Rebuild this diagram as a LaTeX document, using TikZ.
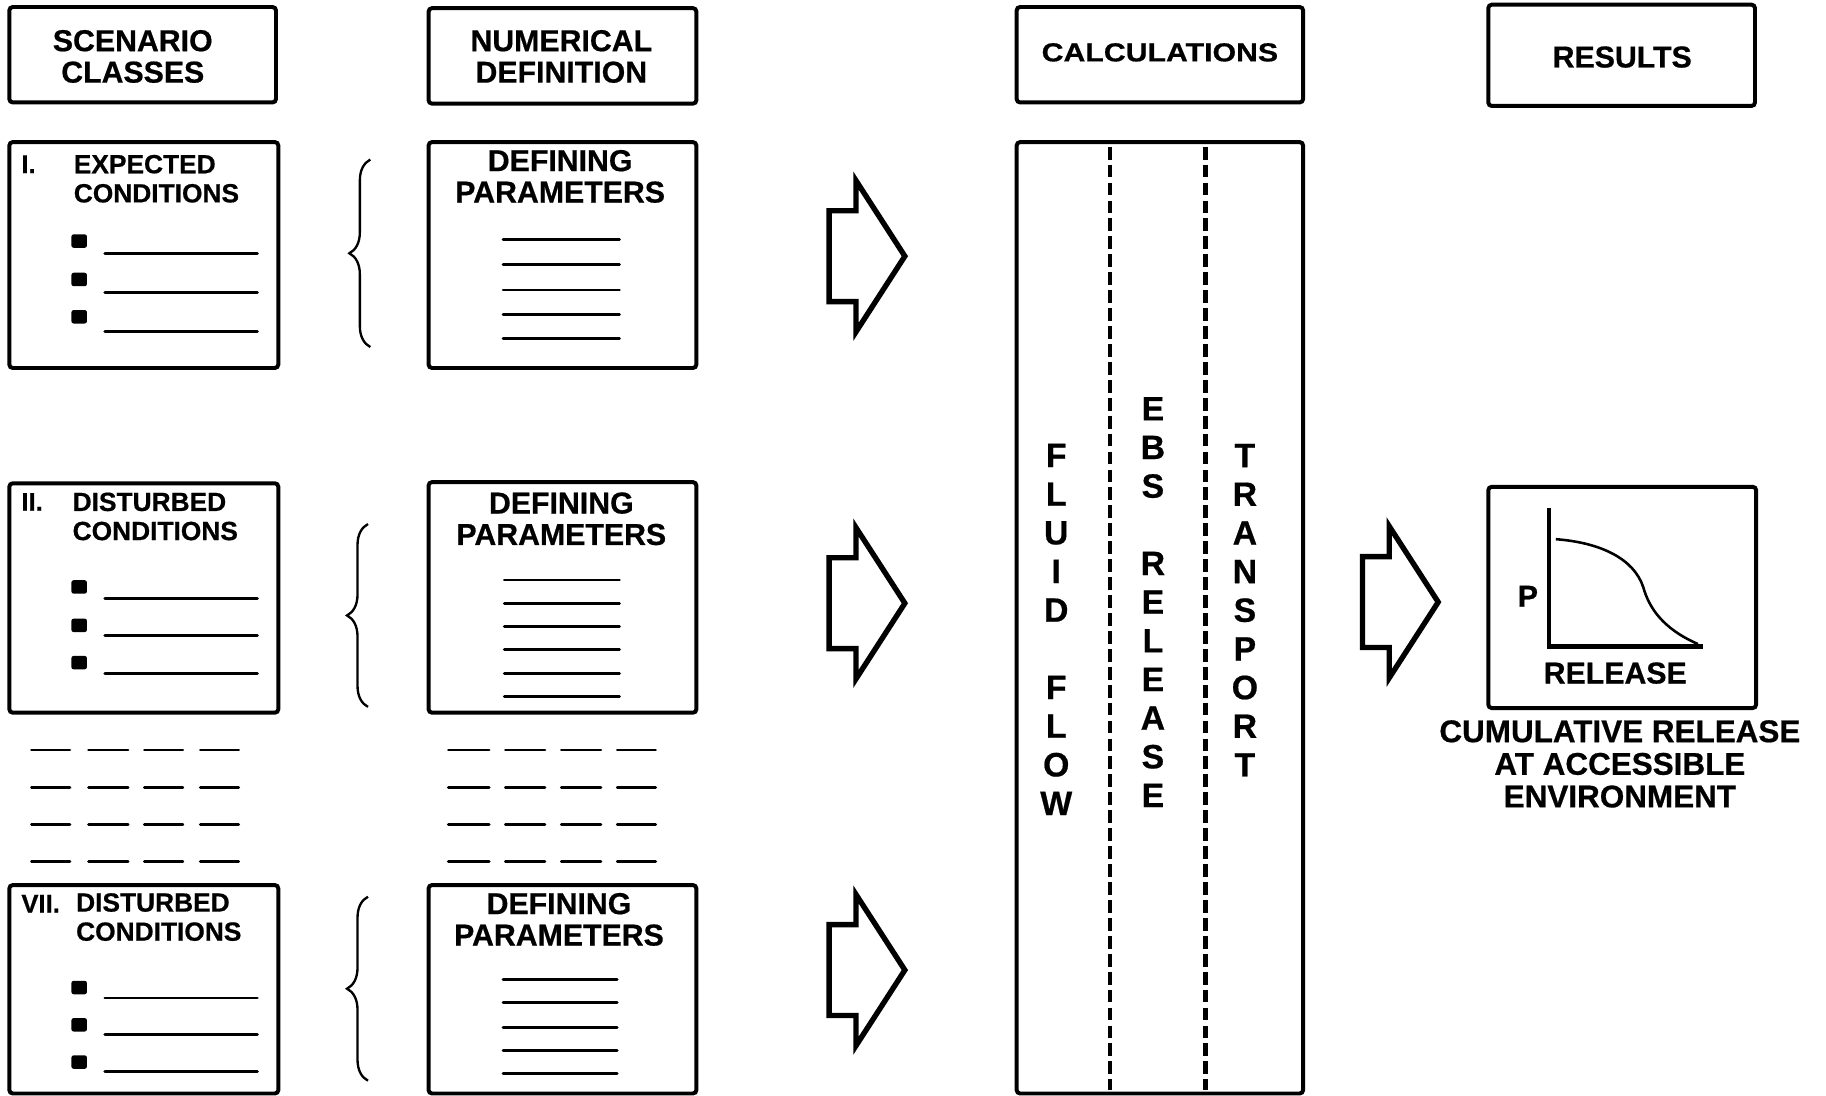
\documentclass[tikz,border=0pt]{standalone}
\usepackage{fontspec}
\setmainfont{Liberation Sans}[BoldFeatures={FakeBold=0.6}]
\newfontfamily\widefont[FakeStretch=1.16,FakeBold=0.6]{Liberation Sans Bold}
\usetikzlibrary{fit,decorations.pathreplacing}
\begin{document}
\begin{tikzpicture}[x=0.5pt,y=-0.5pt,
  box/.style={draw, line width=1.7pt, rounded corners=1.5pt, inner sep=0pt},
  hd/.style={font=\bfseries\fontsize{13}{13.5}\selectfont, align=center, inner sep=0pt},
  lbl/.style={font=\bfseries\fontsize{11.3}{12.5}\selectfont, inner sep=0pt, anchor=west},
  num/.style={font=\bfseries\fontsize{11}{12}\selectfont, inner sep=0pt, anchor=west},
  rule/.style={line width=1.2pt, line cap=round},
  bullet/.style={fill, rounded corners=1pt, minimum width=6.7pt, minimum height=5.8pt, inner sep=0pt},
  vert/.style={font=\bfseries\fontsize{14.5}{16.6}\selectfont, align=center, inner sep=0pt},
  dl/.style={line width=1.9pt, dash pattern=on 5.5pt off 2.2pt},
  arrowline/.style={line width=2.3pt, line join=miter},
  bracedeco/.style={line width=1pt, decorate, decoration={brace, amplitude=9pt}},
  blockarrow/.pic={\draw[arrowline] (0,-39) -- (0,39) -- (23,39) -- (23,65) -- (65,0) -- (23,-65) -- (23,-39) -- cycle;}
]
\useasboundingbox (0,0) rectangle (1568,941);

% headers
\node[box, fit={(8,6) (237,88)}] (sc) {};
\node[hd] (sct) at (114,48.5) {SCENARIO\\CLASSES};
\node[box, fit={(368,7) (598,89)}] (nd) {};
\node[hd] (ndt) at (482,48.5) {NUMERICAL\\DEFINITION};
\node[box, fit={(873,6) (1119,88)}] (calc) {};
\node[inner sep=0pt, font=\widefont\fontsize{11.2}{13}\selectfont] (calct) at (996,45) {CALCULATIONS};
\node[box, fit={(1278,4) (1507,91)}] (res) {};
\node[hd] (rest) at (1393,49) {RESULTS};

% row I
\node[box, fit={(8,122) (239,316)}] (s1) {};
\node[num] (s1n) at (18,141) {I.};
\node[lbl] (s1a) at (63,141) {EXPECTED};
\node[lbl] (s1b) at (63,166) {CONDITIONS};
\foreach \i/\by/\ly in {1/207/218, 2/240/251, 3/272/285} {
  \node[bullet] (bA\i) at (68,\by) {};
  \draw[rule] (90,\ly) -- (221,\ly);
}
\draw[bracedeco] (318,298) -- (318,137);
\node[box, fit={(368,122) (598,316)}] (p1) {};
\node[hd] (p1t) at (481,151.5) {DEFINING\\PARAMETERS};
\foreach \y in {206,227,249,270,291} \draw[rule] (432,\y) -- (532,\y);
\pic (ar1) at (712,220) {blockarrow};

% row II
\node[box, fit={(8,415) (239,612)}] (s2) {};
\node[num] (s2n) at (18,431) {II.};
\node[lbl] (s2a) at (62,431) {DISTURBED};
\node[lbl] (s2b) at (62,456) {CONDITIONS};
\foreach \i/\by/\ly in {1/504/514, 2/537/546, 3/569/578} {
  \node[bullet] (bB\i) at (68,\by) {};
  \draw[rule] (90,\ly) -- (221,\ly);
}
\draw[bracedeco] (316,607) -- (316,450);
\node[box, fit={(368,414) (598,612)}] (p2) {};
\node[hd] (p2t) at (482,445.5) {DEFINING\\PARAMETERS};
\foreach \y in {498,518,538,558,578,598} \draw[rule] (433,\y) -- (532,\y);
\pic (ar2) at (712,518) {blockarrow};

% ellipsis dashes
\foreach \y in {644,676,708,740} {
  \foreach \a/\b in {27/60,76/110,124/157,172/205,385/420,434/468,482/516,530/563}
    \draw[rule] (\a,\y) -- (\b,\y);
}

% row VII
\node[box, fit={(8,760) (239,939)}] (s3) {};
\node[num] (s3n) at (18,776) {VII.};
\node[lbl] (s3a) at (65,775) {DISTURBED};
\node[lbl] (s3b) at (65,800) {CONDITIONS};
\foreach \i/\by/\ly in {1/848/857, 2/880/888, 3/912/920} {
  \node[bullet] (bC\i) at (68,\by) {};
  \draw[rule] (90,\ly) -- (221,\ly);
}
\draw[bracedeco] (316,928) -- (316,770);
\node[box, fit={(368,760) (598,939)}] (p3) {};
\node[hd] (p3t) at (480,789.5) {DEFINING\\PARAMETERS};
\foreach \y in {841,861,882,902,922} \draw[rule] (432,\y) -- (530,\y);
\pic (ar3) at (712,833) {blockarrow};

% calculations column
\node[box, fit={(873,122) (1119,939)}] (cb) {};
\draw[dl] (953,126) -- (953,936);
\draw[dl] (1035,126) -- (1035,936);
\node[vert] (ff) at (907,540.5) {F\\L\\U\\I\\D\\[16.6pt]F\\L\\O\\W};
\node[vert] (ebs) at (990,517) {E\\B\\S\\[16.6pt]R\\E\\L\\E\\A\\S\\E};
\node[vert] (tr) at (1069,524) {T\\R\\A\\N\\S\\P\\O\\R\\T};

% results
\pic (ar4) at (1170,517) {blockarrow};
\node[box, fit={(1278,418) (1508,608)}] (rb) {};
\coordinate (ytop) at (1330,436);
\coordinate (orig) at (1330,555);
\coordinate (xend) at (1462,555);
\draw[line width=2pt] (ytop) -- (orig) -- (xend);
\draw[line width=1.1pt] (1336,463) .. controls (1375,466) and (1403,480) .. (1411,504)
  .. controls (1416,522) and (1428,540) .. (1458,553);
\node[hd] (pl) at (1312,512) {P};
\node[hd] (rl) at (1387,578) {RELEASE};
\node[font=\bfseries\fontsize{13.5}{14}\selectfont, align=center, inner sep=0pt] (cap) at (1391,656)
  {CUMULATIVE RELEASE\\AT ACCESSIBLE\\ENVIRONMENT};
\end{tikzpicture}
\end{document}
